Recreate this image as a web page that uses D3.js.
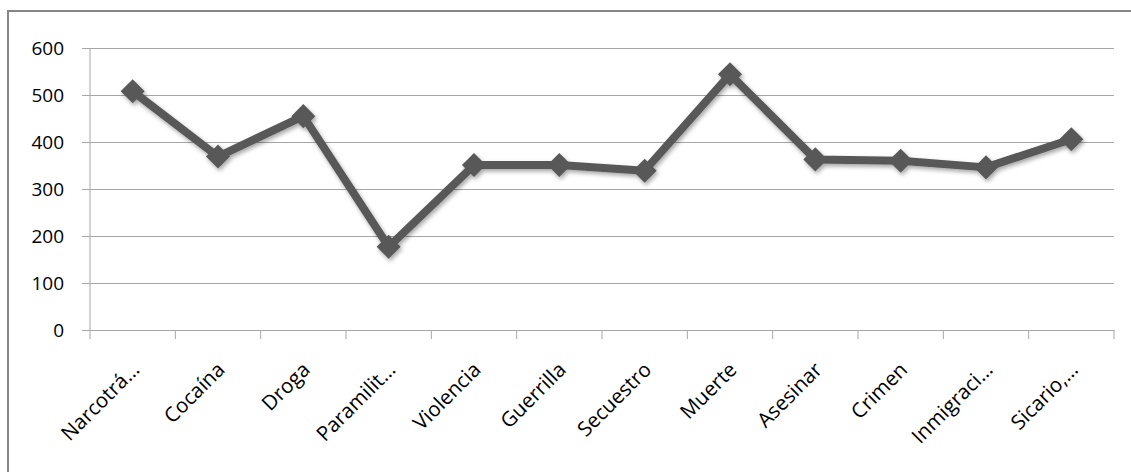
<!DOCTYPE html>
<html>
<head>
<meta charset="utf-8">
<script src="https://cdn.jsdelivr.net/npm/d3@7"></script>
<style>
  html, body { margin: 0; padding: 0; background: #fff; }
  svg { display: block; }
  text { font-family: "Open Sans", "Noto Sans", sans-serif; fill: #000; }
</style>
</head>
<body>
<svg id="chart" width="1131" height="472"></svg>
<script>
const categories = ["Narcotrá…", "Cocaína", "Droga", "Paramilit…", "Violencia", "Guerrilla", "Secuestro", "Muerte", "Asesinar", "Crimen", "Inmigraci…", "Sicario,…"];
const values = [508, 369, 455, 177, 351, 351, 339, 544, 363, 360, 346, 406];
const yTicks = [0, 100, 200, 300, 400, 500, 600];

const W = 1131, H = 472;
const margin = { left: 90, right: 17, top: 48, bottom: 142 };
const svg = d3.select("#chart");

// chart border
svg.append("rect")
  .attr("x", 8).attr("y", 11)
  .attr("width", W).attr("height", H)
  .attr("fill", "none").attr("stroke", "#868686").attr("stroke-width", 2);

const x = d3.scaleBand().domain(categories).range([margin.left, W - margin.right]).padding(0);
const y = d3.scaleLinear().domain([0, 600]).range([H - margin.bottom, margin.top]);

const defs = svg.append("defs");
const f = defs.append("filter").attr("id", "shadow").attr("x", "-20%").attr("y", "-20%").attr("width", "140%").attr("height", "140%");
f.append("feDropShadow").attr("dx", 1.5).attr("dy", 2.5).attr("stdDeviation", 2).attr("flood-color", "#000").attr("flood-opacity", 0.35);

// gridlines + y axis
const yAxis = d3.axisLeft(y).tickValues(yTicks).tickSize(-(W - margin.right - margin.left)).tickPadding(26);
const gy = svg.append("g").attr("transform", `translate(${margin.left},0)`).call(yAxis);
gy.select(".domain").remove();
gy.selectAll(".tick line").attr("stroke", "#a6a6a6").attr("stroke-width", 1).attr("x1", -8);
gy.selectAll(".tick text").attr("font-size", 19).attr("fill", "#111").attr("dy", "0.35em");

// vertical axis line
svg.append("line")
  .attr("x1", margin.left).attr("x2", margin.left)
  .attr("y1", y(600)).attr("y2", y(0))
  .attr("stroke", "#a6a6a6").attr("stroke-width", 1);

// x axis
const xAxis = d3.axisBottom(x).tickSize(0).tickPadding(0);
const gx = svg.append("g").attr("transform", `translate(0,${y(0)})`).call(xAxis);
gx.select(".domain").attr("stroke", "#a6a6a6");
// boundary tick marks
const bounds = categories.map(c => x(c)).concat([x(categories[categories.length - 1]) + x.bandwidth()]);
gx.selectAll(".bound").data(bounds).enter().append("line")
  .attr("class", "bound")
  .attr("x1", d => d).attr("x2", d => d)
  .attr("y1", 0).attr("y2", 9)
  .attr("stroke", "#a6a6a6");
gx.selectAll(".tick text")
  .attr("font-size", 20.5)
  .attr("fill", "#111")
  .attr("text-anchor", "end")
  .attr("dy", 0)
  .attr("transform", "translate(8,41) rotate(-45)");

// line + markers
const cx = c => x(c) + x.bandwidth() / 2;
const line = d3.line().x((d, i) => cx(categories[i])).y(d => y(d));
const series = svg.append("g").attr("filter", "url(#shadow)");
series.append("path")
  .datum(values)
  .attr("d", line)
  .attr("fill", "none")
  .attr("stroke", "#595959")
  .attr("stroke-width", 8)
  .attr("stroke-linejoin", "round");
const sym = d3.symbol().type(d3.symbolSquare).size(290);
series.selectAll(".mk").data(values).enter().append("path")
  .attr("class", "mk")
  .attr("d", sym)
  .attr("fill", "#595959")
  .attr("transform", (d, i) => `translate(${cx(categories[i])},${y(d)}) rotate(45)`);
</script>
</body>
</html>
